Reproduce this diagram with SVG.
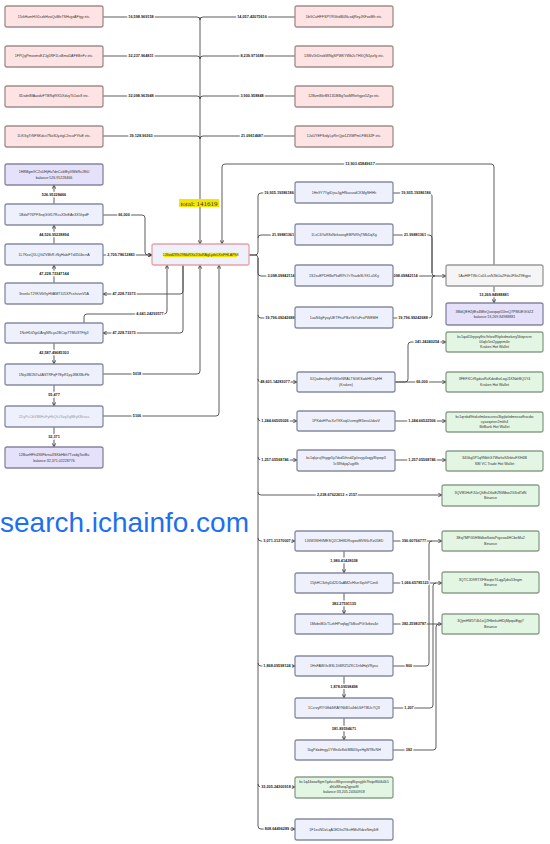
<svg xmlns="http://www.w3.org/2000/svg" width="550" height="844" viewBox="0 0 550 844">
<style>
.n{stroke-width:1.3}
.pk{fill:#fde3e3;stroke:#a08c8c}
.bl{fill:#eef1fb;stroke:#868ba0}
.pu{fill:#e6e1fb;stroke:#86859f}
.gr{fill:#e3f5e3;stroke:#8a9e8a}
.gy{fill:#f5f5f5;stroke:#999}
.ct{fill:#eef1fb;stroke:#e8a0a8}
.t{font-family:"Liberation Sans",Arial,sans-serif;font-size:3.6px;fill:#333;text-anchor:middle}
.l{font-family:"Liberation Sans",Arial,sans-serif;font-size:3.8px;font-weight:bold;fill:#222;text-anchor:middle;paint-order:stroke;stroke:#fff;stroke-width:2.5px}
.c path{fill:none;stroke:#4a4a4a;stroke-width:0.9}
.a{marker-end:url(#ar)}
</style>
<defs>
<marker id="ar" markerUnits="userSpaceOnUse" markerWidth="4" markerHeight="4" viewBox="0 0 4 4" refX="4" refY="2" orient="auto">
<path d="M0.3,0.3 L4,2 L0.3,3.7" fill="none" stroke="#333" stroke-width="0.8"/>
</marker>
</defs>
<rect width="550" height="844" fill="#fff"/>

<g id="connectors" class="c">
<path d="M103,17 H197 Q200,17 200,20"/><path d="M295,17 H203 Q200,17 200,20"/>
<path d="M103,56 H197 Q200,56 200,59"/><path d="M295,56 H203 Q200,56 200,59"/>
<path d="M103,96 H197 Q200,96 200,99"/><path d="M295,96 H203 Q200,96 200,99"/>
<path d="M103,136 H197 Q200,136 200,139"/><path d="M295,136 H203 Q200,136 200,139"/>
<path class="a" d="M200,17 V244"/>
<path class="a" d="M494,265 V167 Q494,164 491,164 H225 Q222,164 222,167 V244"/>
<path class="a" d="M103,215 H142 Q145,215 145,218 V252 Q145,255 148,255 H152"/>
<path class="a" d="M103,255 H152"/>
<path class="a" d="M54,244 V225"/>
<path class="a" d="M54,204 V185"/>
<path class="a" d="M54,283 V265"/>
<path class="a" d="M183,265 V291 Q183,294 180,294 H103"/>
<path class="a" d="M183,265 V330 Q183,333 180,333 H103"/>
<path class="a" d="M84,323 V317 Q84,314 87,314 H164 Q167,314 167,311 V265"/>
<path class="a" d="M54,343 V364"/>
<path class="a" d="M103,374 H197 Q200,374 200,371 V265"/>
<path class="a" d="M54,385 V406"/>
<path class="a" d="M103,416 H216 Q219,416 219,413 V265"/>
<path class="a" d="M54,427 V447"/>
<path class="a" d="M249,255 H255 Q258,255 258,252 V196 Q258,193 261,193 H295"/>
<path class="a" d="M258,238 Q258,235 261,235 H295"/>
<path class="a" d="M249,255 H255 Q258,255 258,258 V273 Q258,276 261,276 H295"/>
<path class="a" d="M258,258 V315 Q258,318 261,318 H295"/>
<path class="a" d="M258,315 V379 Q258,382 261,382 H297"/>
<path class="a" d="M258,379 V418 Q258,421 261,421 H297"/>
<path class="a" d="M258,418 V457 Q258,460 261,460 H297"/>
<path class="a" d="M258,457 V492 Q258,495 261,495 H442"/>
<path class="a" d="M258,492 V538 Q258,541 261,541 H295"/>
<path class="a" d="M258,538 V663 Q258,666 261,666 H295"/>
<path class="a" d="M258,663 V784 Q258,787 261,787 H295"/>
<path class="a" d="M258,784 V826 Q258,829 261,829 H295"/>
<path d="M393,193 H429 Q432,193 432,196 V273 Q432,276 435,276"/>
<path d="M393,235 H429 Q432,235 432,238 V273"/>
<path class="a" d="M393,276 H446"/>
<path d="M393,318 H429 Q432,318 432,315 V279 Q432,276 435,276"/>
<path class="a" d="M494,286 V303"/>
<path class="a" d="M395,382 H405 Q408,382 408,379 V345 Q408,342 411,342 H446"/>
<path class="a" d="M395,382 H446"/>
<path class="a" d="M395,421 H446"/>
<path class="a" d="M395,460 H446"/>
<path class="a" d="M393,541 H442"/>
<path class="a" d="M344,551 V573"/>
<path class="a" d="M393,583 H442"/>
<path class="a" d="M344,593 V614"/>
<path class="a" d="M393,624 H442"/>
<path d="M393,666 H426 Q429,666 429,663 V544 Q429,541 432,541"/>
<path class="a" d="M344,676 V698"/>
<path d="M393,708 H430 Q433,708 433,705 V586 Q433,583 436,583"/>
<path class="a" d="M344,718 V740"/>
<path d="M393,750 H433 Q436,750 436,747 V627 Q436,624 439,624"/>

<text class="l" x="141" y="18.3">16,598.969158</text>
<text class="l" x="252" y="18.3">14,057.42075616</text>
<text class="l" x="141" y="57.3">32,237.964831</text>
<text class="l" x="252" y="57.3">8,239.971688</text>
<text class="l" x="141" y="97.3">32,098.963948</text>
<text class="l" x="252" y="97.3">3,900.958848</text>
<text class="l" x="141" y="137.3">39,128.96363</text>
<text class="l" x="252" y="137.3">21.09614687</text>
<text class="l" x="360" y="165.3">13,903.65849617</text>
<text class="l" x="54" y="196.3">526.95228466</text>
<text class="l" x="124" y="216.3">66,000</text>
<text class="l" x="54" y="236.3">44,526.95228894</text>
<text class="l" x="121" y="256.3">2,705.78612883</text>
<text class="l" x="54" y="275.3">47,228.73347144</text>
<text class="l" x="124" y="295.3">47,228.73373</text>
<text class="l" x="150" y="315.3">4,641.24293577</text>
<text class="l" x="124" y="334.3">47,228.73373</text>
<text class="l" x="54" y="354.3">42,587.49685303</text>
<text class="l" x="137" y="375.3">5018</text>
<text class="l" x="54" y="396.3">55,477</text>
<text class="l" x="137" y="417.3">5106</text>
<text class="l" x="54" y="438.3">32,371</text>
<text class="l" x="279" y="194.3">19,935.19386186</text>
<text class="l" x="283" y="236.3">21.99881361</text>
<text class="l" x="281" y="277.3">3,098.09842114</text>
<text class="l" x="280" y="319.3">19,796.09242688</text>
<text class="l" x="416" y="194.3">19,935.19386186</text>
<text class="l" x="415" y="236.3">21.99881361</text>
<text class="l" x="404" y="277.3">3,098.09842114</text>
<text class="l" x="413" y="319.3">19,796.99242688</text>
<text class="l" x="494" y="296.3">13,269.84988881</text>
<text class="l" x="275" y="383.3">48,601.14283077</text>
<text class="l" x="427" y="343.3">341.24240254</text>
<text class="l" x="422" y="383.3">66,000</text>
<text class="l" x="275" y="422.3">1,244.66505026</text>
<text class="l" x="422" y="422.3">1,244.66522506</text>
<text class="l" x="275" y="461.3">1,257.05568746</text>
<text class="l" x="422" y="461.3">1,257.05568746</text>
<text class="l" x="337" y="496.3">2,238.67622612 × 2157</text>
<text class="l" x="277" y="542.3">3,071.31370007</text>
<text class="l" x="414" y="542.3">390.60766777</text>
<text class="l" x="344" y="562.3">1,980.41428038</text>
<text class="l" x="415" y="584.3">1,066.65785123</text>
<text class="l" x="344" y="605.3">382.27591135</text>
<text class="l" x="414" y="625.3">382.25983787</text>
<text class="l" x="277" y="667.3">1,868.09598124</text>
<text class="l" x="409" y="667.3">800</text>
<text class="l" x="344" y="688.3">1,878.09598498</text>
<text class="l" x="409" y="709.3">1,207</text>
<text class="l" x="344" y="730.3">381.89594671</text>
<text class="l" x="409" y="751.3">382</text>
<text class="l" x="276" y="788.3">33,205.24300918</text>
<text class="l" x="277" y="830.3">808.64496289</text>
</g>

<g id="total">
<rect x="179" y="199" width="40" height="8" fill="#f5e600"/>
<text x="199" y="205.5" font-family="'Liberation Serif',serif" font-size="7" fill="#333" text-anchor="middle">total: 141619</text>
</g>

<g id="p1"><rect class="n pk" x="5" y="6" width="98" height="21" rx="2"/><text class="t" x="54" y="18.3">15rkHumHG1czbHzoQuMe7SHcgxAFtgy etc.</text></g>
<g id="p2"><rect class="n pk" x="5" y="46" width="98" height="21" rx="2"/><text class="t" x="54" y="57.3">1FPQgPmosmsEZJg5RF1LsBmoDAFEBnFv etc.</text></g>
<g id="p3"><rect class="n pk" x="5" y="86" width="98" height="21" rx="2"/><text class="t" x="54" y="97.3">3DxdnBfAaxdvFTBRqf9XDXdvyTk1wc8 etc.</text></g>
<g id="p4"><rect class="n pk" x="5" y="126" width="98" height="21" rx="2"/><text class="t" x="54" y="137.3">1LKGgTrNFSKdcv7NoSJyztgL2ncaFYfuE etc.</text></g>
<g id="p5"><rect class="n pk" x="295" y="6" width="98" height="21" rx="2"/><text class="t" x="344" y="18.3">1bGCuHFFSPYRGhdB0NcxdjReyJKFoxMh etc.</text></g>
<g id="p6"><rect class="n pk" x="295" y="46" width="98" height="21" rx="2"/><text class="t" x="344" y="57.3">13Wv5hDnxbWNgSPWKYWb2cTHXQN1pzfg etc.</text></g>
<g id="p7"><rect class="n pk" x="295" y="86" width="98" height="21" rx="2"/><text class="t" x="344" y="97.3">12BvmBkrBS13DBBgTooMRtehgpx5Zgx etc.</text></g>
<g id="p8"><rect class="n pk" x="295" y="126" width="98" height="21" rx="2"/><text class="t" x="344" y="137.3">1JoUYEFSrdyLpRrrQjw1ZXMPmLFB63ZF etc.</text></g>

<g id="central"><rect class="n ct" x="152" y="244" width="97" height="21" rx="2"/><rect x="164" y="252.8" width="73" height="4.4" fill="#f5e600"/><text class="t" x="200.5" y="256.3">1J6wdZRhJ9MaRXx2GaRAgLydeLKnFHLAPh8</text></g>

<g id="lp1"><rect class="n pu" x="5" y="164" width="98" height="21" rx="2"/><text class="t" x="54" y="173">1H8Mgm9C2sUHjHv7dnCcbfEyVWbRvJ8tU</text><text class="t" x="54" y="178.5">balance:526.95228466</text></g>
<g id="l1"><rect class="n bl" x="5" y="204" width="98" height="21" rx="2"/><text class="t" x="54" y="216.3">1BdxP76PF3eqGGf17RcuX3nEAn3X5hpdF</text></g>
<g id="l2"><rect class="n bl" x="5" y="244" width="98" height="21" rx="2"/><text class="t" x="54" y="256.3">1L7KxzQ5LQGZVBhR.rNyHabiFTd35UbcnA</text></g>
<g id="l3"><rect class="n bl" x="5" y="283" width="98" height="21" rx="2"/><text class="t" x="54" y="295.3">3nxnkcT29KV6t9yHVAMT3J5XPcxhvvnV5A</text></g>
<g id="l4"><rect class="n bl" x="5" y="323" width="98" height="20" rx="2"/><text class="t" x="54" y="334.3">1NeH1tZtjpUArgNRcyx2BCzp7TMU3TFfg3</text></g>
<g id="l5"><rect class="n bl" x="5" y="364" width="98" height="21" rx="2"/><text class="t" x="54" y="375.8">1Nrp3B1N7a4ASTRFqF7EpR1pyJ8BXBcFb</text></g>
<g id="l6"><rect class="n bl" x="5" y="406" width="98" height="21" rx="2"/><text class="t" x="54" y="417.8" style="fill:#9a9a9a">2DyPcCbVB8HvFyHhQhJXzgVgBEyKBrxxa</text></g>
<g id="lp2"><rect class="n pu" x="5" y="447" width="98" height="21" rx="2"/><text class="t" x="54" y="456">12BaeHFh4X6FbrnaXSKbHbh7TvxdgTovBu</text><text class="t" x="54" y="461.5">balance:32,371.02228776</text></g>

<g id="r1"><rect class="n bl" x="295" y="182" width="98" height="21" rx="2"/><text class="t" x="344" y="194.3">1Hn9Y7YgtDjsuJgjHNuxuxdCKMgSHHh</text></g>
<g id="r2"><rect class="n bl" x="295" y="224" width="98" height="21" rx="2"/><text class="t" x="344" y="236.3">1LxC6YaR8xNeksoegEBPkRhjTMkDqXg</text></g>
<g id="r3"><rect class="n bl" x="295" y="265" width="98" height="21" rx="2"/><text class="t" x="344" y="277.3">1S2xuEPDHBoPkdRPcYr7huzbSL9XLu5Ky</text></g>
<g id="r4"><rect class="n bl" x="295" y="307" width="98" height="21" rx="2"/><text class="t" x="344" y="319.3">1uaN6gFyayUETFhuPBeYbYuFraPWEMH</text></g>
<g id="aohf"><rect class="n gy" x="446" y="265" width="97" height="21" rx="2"/><text class="t" x="494.5" y="277.3">1AoHfFTWcCoDLusN3bUaZFdoJF3eZ9Egpx</text></g>
<g id="rp"><rect class="n pu" x="446" y="303" width="97" height="22" rx="2"/><text class="t" x="494.5" y="312.5">3MdQEH2jfEx4MfeQuwqwp55hnQ7PMUEGGZZ</text><text class="t" x="494.5" y="318">balance:13,269.84988881</text></g>

<g id="kraken"><rect class="n bl" x="297" y="372" width="98" height="20" rx="2"/><text class="t" x="346" y="380">3JQadmvtkyFGS6eNRALTSGKSwbHK1tyHH</text><text class="t" x="346" y="385.5">(Kraken)</text></g>
<g id="n5"><rect class="n bl" x="297" y="411" width="98" height="20" rx="2"/><text class="t" x="346" y="422.3">1PKdoHPocXzYKKxqUcemgfE3znuUdzzV</text></g>
<g id="n6"><rect class="n bl" x="297" y="450" width="98" height="21" rx="2"/><text class="t" x="346" y="459">bc1qkjzuj9hygp5y7dxd5thndZjplevyy4xqjy8hpwp3</text><text class="t" x="346" y="464.5">5r3ll9dyq2ugt8h</text></g>

<g id="g1"><rect class="n gr" x="446" y="332" width="97" height="20" rx="2"/><text class="t" x="494.5" y="337.6">bc1qa61lrpyxyfhtc9rlwzlRtpledmzkzry5ktqsrvrn</text><text class="t" x="494.5" y="342.8">00qlv5nt2ygqem4e</text><text class="t" x="494.5" y="348">Kraken Hot Wallet</text></g>
<g id="g2"><rect class="n gr" x="446" y="372" width="97" height="20" rx="2"/><text class="t" x="494.5" y="380">3FEFXCrRgduxRuKdedhzLogJ1KNdrBQ1Y4</text><text class="t" x="494.5" y="385.5">Kraken Hot Wallet</text></g>
<g id="g3"><rect class="n gr" x="446" y="412" width="97" height="20" rx="2"/><text class="t" x="494.5" y="417.6">bc1qrsbd9ttxkxfmkexcxrxu3kpjlwlrdmnxxzfhvcdw</text><text class="t" x="494.5" y="422.8">cyaeqztxrr2mkh4</text><text class="t" x="494.5" y="428">BitBank Hot Wallet</text></g>
<g id="g4"><rect class="n gr" x="446" y="451" width="97" height="20" rx="2"/><text class="t" x="494.5" y="459">34Gkg5P1q9NbhG7Wwhx9ZnbtuFXH4B</text><text class="t" x="494.5" y="464.5">SBI VC Trade Hot Wallet</text></g>
<g id="g5"><rect class="n gr" x="442" y="485" width="97" height="21" rx="2"/><text class="t" x="490.5" y="493.5">3QVB5HvFJUzQhEsD6oEZNWbw2G3rdTdN</text><text class="t" x="490.5" y="499">Binance</text></g>

<g id="na"><rect class="n bl" x="295" y="531" width="98" height="20" rx="2"/><text class="t" x="344" y="542.3">1J6W3SHVMESQ2C3H8DRsgwoMVS6cRz05ED</text></g>
<g id="nb"><rect class="n bl" x="295" y="573" width="98" height="20" rx="2"/><text class="t" x="344" y="584.3">15jhHC3zhyD42D3aAM2xHhzr3qvhPCzn6</text></g>
<g id="nc"><rect class="n bl" x="295" y="614" width="98" height="20" rx="2"/><text class="t" x="344" y="625.3">1MobsMJcTLzhHPxqfqgTkBuxPGGzbxv4e</text></g>
<g id="nd"><rect class="n bl" x="295" y="656" width="98" height="20" rx="2"/><text class="t" x="344" y="667.3">1HsFAWGcBSL1hBRZ5ZKCDrfdHqVRyxu</text></g>
<g id="ne"><rect class="n bl" x="295" y="698" width="98" height="20" rx="2"/><text class="t" x="344" y="709.3">1CcrzyRYG8d4tRAYNkB1u4rbUkFTBUcYQ3</text></g>
<g id="nf"><rect class="n bl" x="295" y="740" width="98" height="20" rx="2"/><text class="t" x="344" y="751.3">1kgPdzdmgy1YWn4e8xkMB4GyeHgW7BcNH</text></g>
<g id="ng"><rect class="n gr" x="295" y="777" width="98" height="21" rx="2"/><text class="t" x="344" y="782.6">bc1q44woz8gm7gdvcv8lhyceseq8kpuyjkh7fsqe860k4k5</text><text class="t" x="344" y="787.8">dhlz88veq2gjnw8f</text><text class="t" x="344" y="793">balance:33,205.24300918</text></g>
<g id="nh"><rect class="n bl" x="295" y="819" width="98" height="21" rx="2"/><text class="t" x="344" y="830.8">1F1euNDzLqA1EDhr29kvHMuRdzeNmj4rE</text></g>

<g id="b1"><rect class="n gr" x="442" y="531" width="97" height="20" rx="2"/><text class="t" x="490.5" y="539">3Eq7MPG5HMdkwSwtaPrgxsw4HCbeMu2</text><text class="t" x="490.5" y="544.5">Binance</text></g>
<g id="b2"><rect class="n gr" x="442" y="572" width="97" height="21" rx="2"/><text class="t" x="490.5" y="580.5">3QTCJD9RTXFEwqte7iLqgZjdru53ngm</text><text class="t" x="490.5" y="586">Binance</text></g>
<g id="b3"><rect class="n gr" x="442" y="614" width="97" height="20" rx="2"/><text class="t" x="490.5" y="622">3QjmHW5T4k1xQ2HbnkuHfDjMpqatEgy7</text><text class="t" x="490.5" y="627.5">Binance</text></g>

<text x="0" y="532" font-family="'Liberation Sans',Arial,sans-serif" font-size="28" fill="#1e6ff0">search.ichainfo.com</text>
</svg>
